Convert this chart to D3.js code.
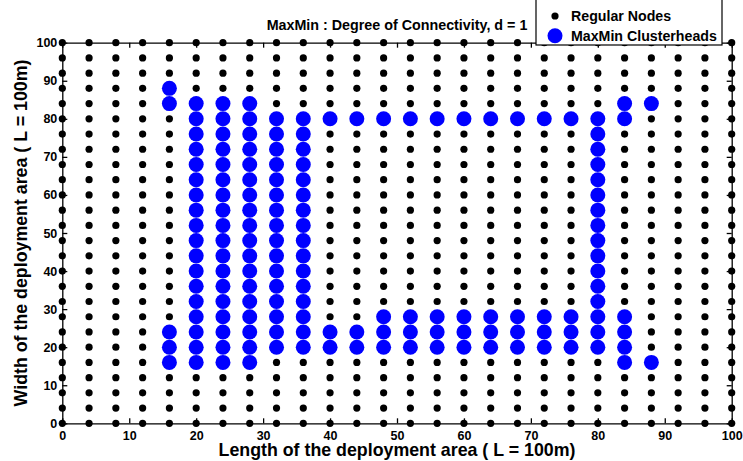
<!DOCTYPE html>
<html>
<head>
<meta charset="utf-8">
<script src="https://cdn.jsdelivr.net/npm/d3@7"></script>
<style>
  body { margin: 0; background: #fff; }
  text { font-family: "Liberation Sans", Arial, sans-serif; font-weight: bold; }
</style>
</head>
<body>
<div id="container"></div>
<script>
// grid positions of the regular nodes (both directions)
var gridPos = [0, 4, 8, 12, 16, 20, 24, 28, 32, 36, 40, 44, 48, 52, 56, 60, 64, 68, 72, 76, 80, 84, 88, 92, 96, 100];

// clusterheads: column x -> list of y
var chCols = [16, 20, 24, 28, 32, 36, 40, 44, 48, 52, 56, 60, 64, 68, 72, 76, 80, 84, 88];
var chRows = [
    [88, 84, 24, 20, 16],
    [84, 80, 76, 72, 68, 64, 60, 56, 52, 48, 44, 40, 36, 32, 28, 24, 20, 16],
    [84, 80, 76, 72, 68, 64, 60, 56, 52, 48, 44, 40, 36, 32, 28, 24, 20, 16],
    [84, 80, 76, 72, 68, 64, 60, 56, 52, 48, 44, 40, 36, 32, 28, 24, 20, 16],
    [80, 76, 72, 68, 64, 60, 56, 52, 48, 44, 40, 36, 32, 28, 24, 20],
    [80, 76, 72, 68, 64, 60, 56, 52, 48, 44, 40, 36, 32, 28, 24, 20],
    [80, 24, 20],
    [80, 24, 20],
    [80, 28, 24, 20],
    [80, 28, 24, 20],
    [80, 28, 24, 20],
    [80, 28, 24, 20],
    [80, 28, 24, 20],
    [80, 28, 24, 20],
    [80, 28, 24, 20],
    [80, 28, 24, 20],
    [80, 76, 72, 68, 64, 60, 56, 52, 48, 44, 40, 36, 32, 28, 24, 20],
    [84, 80, 28, 24, 20, 16],
    [84, 16]
];

var tickVals = [0, 10, 20, 30, 40, 50, 60, 70, 80, 90, 100];
var legendLabels = ["Regular Nodes", "MaxMin Clusterheads"];

var W = 743, H = 461;
var mLeft = 62.3, mRight = 731.7, mTop = 42.7, mBottom = 423.3;

var x = d3.scaleLinear().domain([0, 100]).range([mLeft, mRight]);
var y = d3.scaleLinear().domain([0, 100]).range([mBottom, mTop]);

var svg = d3.select("#container").append("svg")
    .attr("width", W).attr("height", H);

// regular nodes
var nodes = [];
gridPos.forEach(function (gx) {
    gridPos.forEach(function (gy) { nodes.push({x: gx, y: gy}); });
});
var heads = [];
chCols.forEach(function (cx, i) {
    chRows[i].forEach(function (cy) { heads.push({x: cx, y: cy}); });
});

// axes (box with inward ticks)
svg.append("g")
    .attr("transform", "translate(0," + mBottom + ")")
    .call(d3.axisBottom(x).tickValues(tickVals).tickSizeInner(-5).tickSizeOuter(0).tickPadding(8));
svg.append("g")
    .attr("transform", "translate(" + mLeft + ",0)")
    .call(d3.axisLeft(y).tickValues(tickVals).tickSizeInner(-5).tickSizeOuter(0).tickPadding(5));
svg.append("g")
    .attr("transform", "translate(0," + mTop + ")")
    .call(d3.axisTop(x).tickValues(tickVals).tickSizeInner(-5).tickSizeOuter(0).tickFormat(""));
svg.append("g")
    .attr("transform", "translate(" + mRight + ",0)")
    .call(d3.axisRight(y).tickValues(tickVals).tickSizeInner(-5).tickSizeOuter(0).tickFormat(""));

svg.selectAll(".domain, .tick line").attr("stroke", "#000").attr("stroke-width", 1.3);
svg.selectAll(".tick text")
    .style("font-size", "12.5px")
    .style("font-family", "'Liberation Sans', Arial, sans-serif")
    .style("font-weight", "bold")
    .attr("fill", "#000");

svg.append("g").selectAll("circle")
    .data(nodes).enter().append("circle")
    .attr("cx", function (d) { return x(d.x); })
    .attr("cy", function (d) { return y(d.y); })
    .attr("r", 3.6)
    .attr("fill", "#000");

svg.append("g").selectAll("circle")
    .data(heads).enter().append("circle")
    .attr("cx", function (d) { return x(d.x); })
    .attr("cy", function (d) { return y(d.y); })
    .attr("r", 7.5)
    .attr("fill", "#0000ff");

// title
svg.append("text")
    .attr("x", (mLeft + mRight) / 2)
    .attr("y", 30)
    .attr("text-anchor", "middle")
    .style("font-size", "14.3px")
    .text("MaxMin : Degree of Connectivity, d = 1");

// axis labels
svg.append("text")
    .attr("x", (mLeft + mRight) / 2)
    .attr("y", 456)
    .attr("text-anchor", "middle")
    .style("font-size", "17.8px")
    .text("Length of the deployment area ( L = 100m)");

svg.append("text")
    .attr("transform", "translate(27," + ((mTop + mBottom) / 2) + ") rotate(-90)")
    .attr("text-anchor", "middle")
    .style("font-size", "17.8px")
    .text("Width of the deployment area ( L = 100m)");

// legend
var leg = svg.append("g");
leg.append("rect")
    .attr("x", 536).attr("y", -2)
    .attr("width", 186).attr("height", 47)
    .attr("fill", "#fff").attr("stroke", "#000").attr("stroke-width", 1.2);
leg.append("circle").attr("cx", 555).attr("cy", 16).attr("r", 3.6).attr("fill", "#000");
leg.append("circle").attr("cx", 555).attr("cy", 35.7).attr("r", 7.5).attr("fill", "#0000ff");
leg.selectAll("text.lg")
    .data(legendLabels).enter().append("text")
    .attr("class", "lg")
    .attr("x", 571)
    .attr("y", function (d, i) { return 21 + i * 19.5; })
    .style("font-size", "14.2px")
    .text(function (d) { return d; });
</script>
</body>
</html>
